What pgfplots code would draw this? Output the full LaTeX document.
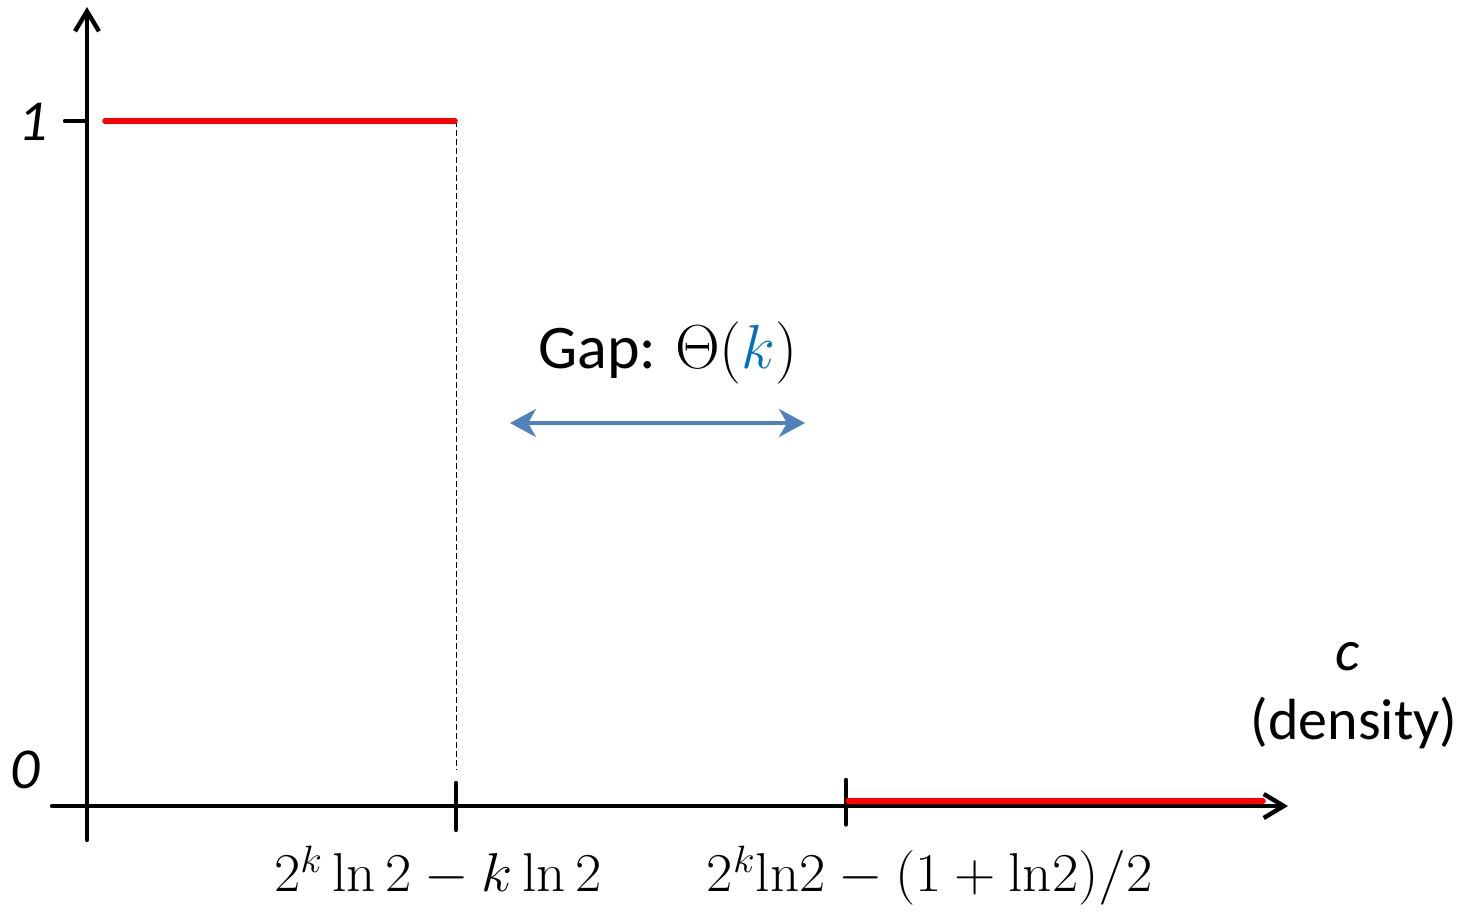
\documentclass[border=0pt]{standalone}
\usepackage{pgfplots}
\pgfplotsset{compat=1.18}
\usepackage[no-math]{fontspec}
\setmainfont{Carlito}
\usetikzlibrary{arrows.meta}
\definecolor{axred}{RGB}{255,0,0}
\definecolor{arrblue}{RGB}{79,129,189}
\definecolor{kblue}{RGB}{0,112,192}
\begin{document}
\begin{tikzpicture}
\begin{axis}[
  scale only axis, width=735pt, height=456pt,
  xmin=0, xmax=1470, ymin=-0.15474, ymax=1.17664,
  hide axis, clip=false,
]
% axes
\addplot[black, line width=2.2pt, line cap=round, -{Straight Barb[length=10pt,width=12pt,line width=2.2pt]}] coordinates {(87,-0.0496) (87,1.1664)};
\addplot[black, line width=2.2pt, line cap=round, -{Straight Barb[length=10pt,width=12pt,line width=2.2pt]}] coordinates {(52,0) (1288,0)};
% ticks
\addplot[black, line width=2.2pt, line cap=round] coordinates {(65,1) (87,1)};
\addplot[black, line width=2.2pt, line cap=round] coordinates {(456,0.0336) (456,-0.035)};
\addplot[black, line width=2.2pt, line cap=round] coordinates {(846,0.038) (846,-0.027)};
% dashed
\addplot[black, line width=0.5pt, dash pattern=on 3pt off 1.5pt] coordinates {(456,1) (456,0.0526)};
% red segments
\addplot[axred, line width=2.75pt, line cap=round] coordinates {(105,1) (455,1)};
\addplot[axred, line width=2.75pt, line cap=round] coordinates {(848,0.0073) (1263,0.0073)};
% gap arrow
\addplot[arrblue, line width=2pt, {Stealth[length=13pt,width=14pt,inset=4pt]}-{Stealth[length=13pt,width=14pt,inset=4pt]}] coordinates {(510,0.5591) (805,0.5591)};
% text
\node[anchor=base, font=\fontsize{31}{37}\selectfont] at (axis cs:668,0.6394) {Gap: \scalebox{1.25}{$\Theta($\textcolor{kblue}{$k$}$)$}};
\node[font=\fontsize{29}{35}\selectfont\itshape] at (axis cs:33,0.9985) {1};
\node[font=\fontsize{29}{35}\selectfont\itshape] at (axis cs:25,0.0526) {0};
\node[anchor=base, font=\fontsize{29}{35}\selectfont\itshape] at (axis cs:1348,0.1985) {c};
\node[anchor=base, font=\fontsize{29}{35}\selectfont] at (axis cs:1354,0.0964) {(density)};
\node[anchor=base, font=\fontsize{23}{28}\selectfont] at (axis cs:438,-0.1255) {\scalebox{1.15}[1.1]{$2^k\ln 2-k\ln 2$}};
\node[anchor=base, font=\fontsize{23}{28}\selectfont] at (axis cs:930,-0.1255) {\scalebox{1.15}[1.1]{$2^k\mathrm{ln}2-(1+\mathrm{ln}2)/2$}};
\end{axis}
\pgfresetboundingbox
\path[use as bounding box] (current axis.south west) rectangle (current axis.north east);
\end{tikzpicture}
\end{document}
